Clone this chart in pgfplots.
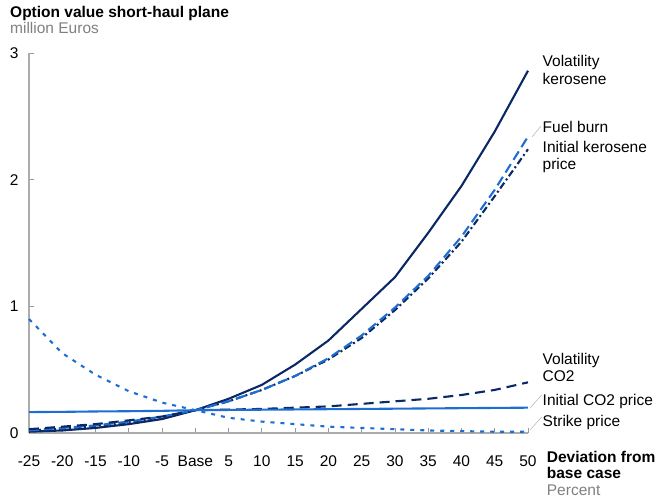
\documentclass[border=0pt]{standalone}
\usepackage{pgfplots}
\pgfplotsset{compat=1.18}
\usepackage{fontspec}
\setmainfont{Liberation Sans}
\definecolor{navy}{RGB}{10,40,100}
\definecolor{mblue}{RGB}{30,110,210}
\definecolor{lgray}{RGB}{128,128,128}
\begin{document}
\begin{tikzpicture}[x=1pt,y=1pt]
\useasboundingbox (-29,-66) rectangle (628,433);
\begin{axis}[
  at={(0,0)}, anchor=south west,
  scale only axis, width=499pt, height=380pt,
  xmin=0, xmax=15, ymin=0, ymax=3,
  axis lines=left,
  axis line style={-, draw=gray!65, line width=1.6pt},
  xtick={0,...,15},
  xticklabels={-25,-20,-15,-10,-5,Base,5,10,15,20,25,30,35,40,45,50},
  ytick={0,1,2,3}, yticklabels={0,1,2,3},
  tick align=inside, major tick length=5pt,
  tick style={draw=gray!80, line width=0.8pt},
  ticklabel style={font=\fontsize{15.5}{18}\selectfont},
  xticklabel style={yshift=-19pt},
  yticklabel style={xshift=-7pt},
  clip=false,
]
\addplot[navy, line width=2.1pt] coordinates {(0,0.01)(1,0.02)(2,0.04)(3,0.07)(4,0.11)(5,0.18)(6,0.27)(7,0.38)(8,0.54)(9,0.73)(10,0.98)(11,1.23)(12,1.58)(13,1.95)(14,2.38)(15,2.86)};
\addplot[navy, line width=2.1pt, dash pattern=on 7pt off 3pt on 2pt off 3pt] coordinates {(0,0.02)(1,0.035)(2,0.055)(3,0.085)(4,0.125)(5,0.18)(6,0.25)(7,0.34)(8,0.45)(9,0.58)(10,0.75)(11,0.97)(12,1.22)(13,1.51)(14,1.87)(15,2.24)};
\addplot[mblue, line width=2.1pt, dash pattern=on 10pt off 5pt] coordinates {(0,0.02)(1,0.04)(2,0.06)(3,0.09)(4,0.13)(5,0.18)(6,0.25)(7,0.34)(8,0.45)(9,0.59)(10,0.77)(11,0.99)(12,1.24)(13,1.55)(14,1.92)(15,2.34)};
\addplot[navy, line width=2.1pt, dash pattern=on 10pt off 6pt] coordinates {(0,0.03)(1,0.05)(2,0.07)(3,0.10)(4,0.13)(5,0.18)(6,0.185)(7,0.19)(8,0.20)(9,0.21)(10,0.23)(11,0.25)(12,0.27)(13,0.30)(14,0.34)(15,0.40)};
\addplot[mblue, line width=2.1pt] coordinates {(0,0.165)(1,0.167)(2,0.17)(3,0.172)(4,0.175)(5,0.18)(6,0.182)(7,0.184)(8,0.186)(9,0.188)(10,0.19)(11,0.192)(12,0.194)(13,0.196)(14,0.198)(15,0.20)};
\addplot[mblue, line width=2.1pt, dash pattern=on 4pt off 6pt] coordinates {(0,0.90)(1,0.63)(2,0.46)(3,0.33)(4,0.24)(5,0.18)(6,0.12)(7,0.09)(8,0.07)(9,0.05)(10,0.04)(11,0.03)(12,0.02)(13,0.015)(14,0.01)(15,0.01)};
\end{axis}
% texts: pixel (px,py) -> (px-29, 433-py)
\begin{scope}[every node/.style={inner sep=0pt, anchor=base west, font=\fontsize{15.5}{18}\selectfont}]
\node at (-19,415.5) {\bfseries Option value short-haul plane};
\node[text=lgray] at (-19,399.5) {million Euros};
\node at (513.5,366) {Volatility};
\node at (513.5,348) {kerosene};
\node at (513.5,300.3) {Fuel burn};
\node at (513.5,280) {Initial kerosene};
\node at (513.5,263) {price};
\node at (513.5,69) {Volatility};
\node at (513.5,51.3) {CO2};
\node at (513.5,28) {Initial CO2 price};
\node at (513.5,6.3) {Strike price};
\node at (517.7,-29.7) {\bfseries Deviation from};
\node at (517.7,-45) {\bfseries base case};
\node[text=lgray] at (517.7,-62) {Percent};
\end{scope}
\draw[gray!60, line width=0.5pt] (503,296) -- (512,307);
\draw[gray!60, line width=0.5pt] (501,25) -- (512.7,38);
\draw[gray!60, line width=0.5pt] (501,3) -- (512.7,16);
\end{tikzpicture}
\end{document}
